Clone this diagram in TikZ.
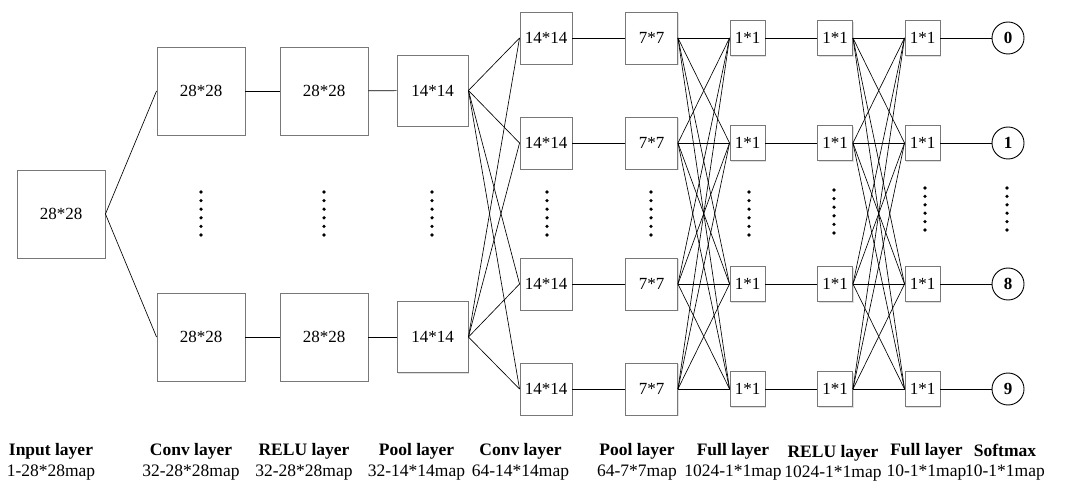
\documentclass[tikz,border=0pt]{standalone}
\usepackage{fontspec}
\setmainfont{Liberation Serif}
\usetikzlibrary{shadows}
\begin{document}
\begin{tikzpicture}[x=1pt,y=-1pt,
  box/.style={draw={rgb,255:red,120;green,120;blue,120}, line width=0.9pt, fill=white,
    inner sep=0pt, minimum size=#1, font=\fontsize{17}{20}\selectfont,
    drop shadow={opacity=0.25, shadow xshift=1.2pt, shadow yshift=-1.2pt}},
  outc/.style={draw=black, line width=0.9pt, circle, fill=white, inner sep=0pt,
    minimum size=32pt, font=\bfseries\fontsize{17}{20}\selectfont},
  link/.style={draw=black, line width=0.65pt},
  lab/.style={align=center, inner sep=0pt, font=\fontsize{17.5}{20.5}\selectfont},
  dotm/.style={fill=black}]
\useasboundingbox (0,0) rectangle (1069,481);

% first stage
\node[box=88pt] (in) at (61,214) {28*28};
\node[box=88pt] (c1a) at (201,91) {28*28};
\node[box=88pt] (c1b) at (201,337) {28*28};
\node[box=88pt] (r1a) at (324,91) {28*28};
\node[box=88pt] (r1b) at (324,337) {28*28};
\node[box=71pt] (p1a) at (432.5,90.5) {14*14};
\node[box=71pt] (p1b) at (432.5,337) {14*14};

% four-row stages
\foreach \n/\y in {a/38,b/143,c/284,d/389}{
  \node[box=52pt] (c2\n) at (546,\y) {14*14};
  \node[box=52pt] (p2\n) at (651.5,\y) {7*7};
  \node[box=35pt] (f1\n) at (747.5,\y) {1*1};
  \node[box=35pt] (r2\n) at (835,\y) {1*1};
  \node[box=35pt] (f2\n) at (922.5,\y) {1*1};
}
\node[outc] (oa) at (1008,38) {0};
\node[outc] (ob) at (1008,143) {1};
\node[outc] (oc) at (1008,284) {8};
\node[outc] (od) at (1008,389) {9};

% connectors
\draw[link] (in.east) -- (c1a.west);
\draw[link] (in.east) -- (c1b.west);
\draw[link] (c1a) -- (r1a);
\draw[link] (c1b) -- (r1b);
\draw[link] (r1a) -- (p1a);
\draw[link] (r1b) -- (p1b);
\foreach \m in {a,b,c,d}{
  \draw[link] (p1a.east) -- (c2\m.west);
  \draw[link] (p1b.east) -- (c2\m.west);
  \draw[link] (c2\m) -- (p2\m);
  \draw[link] (f1\m) -- (r2\m);
  \draw[link] (f2\m) -- (o\m);
  \foreach \k in {a,b,c,d}{
    \draw[link] (p2\m.east) -- (f1\k.west);
    \draw[link] (r2\m.east) -- (f2\k.west);
  }
}

% vertical dots
\foreach \x/\ya/\yb in {201/192/235, 324/192/235, 432/192/235, 547/192/235, 651/192/235,
                        749/192/235, 834/190/233, 925/188/230, 1007/188/230}{
  \foreach \i in {0,...,5}{
    \fill[dotm] (\x,{\ya+\i*(\yb-\ya)/5}) circle (1.8pt);
  }
}

% labels
\node[lab] (l1) at (51,462) {\textbf{Input layer}\\1-28*28map};
\node[lab] (l2) at (191,462) {\textbf{Conv layer}\\32-28*28map};
\node[lab] (l3) at (304,462) {\textbf{RELU layer}\\32-28*28map};
\node[lab] (l4) at (416.5,462) {\textbf{Pool layer}\\32-14*14map};
\node[lab] (l5) at (520.5,462) {\textbf{Conv layer}\\64-14*14map};
\node[lab] (l6) at (637,462) {\textbf{Pool layer}\\64-7*7map};
\node[lab] (l7) at (733,462) {\textbf{Full layer}\\1024-1*1map};
\node[lab] (l8) at (833,463.5) {\textbf{RELU layer}\\1024-1*1map};
\node[lab] (l9) at (926.5,462) {\textbf{Full layer}\\10-1*1map};
\node[lab] (l10) at (1005,462) {\textbf{Softmax}\\10-1*1map};
\end{tikzpicture}
\end{document}
